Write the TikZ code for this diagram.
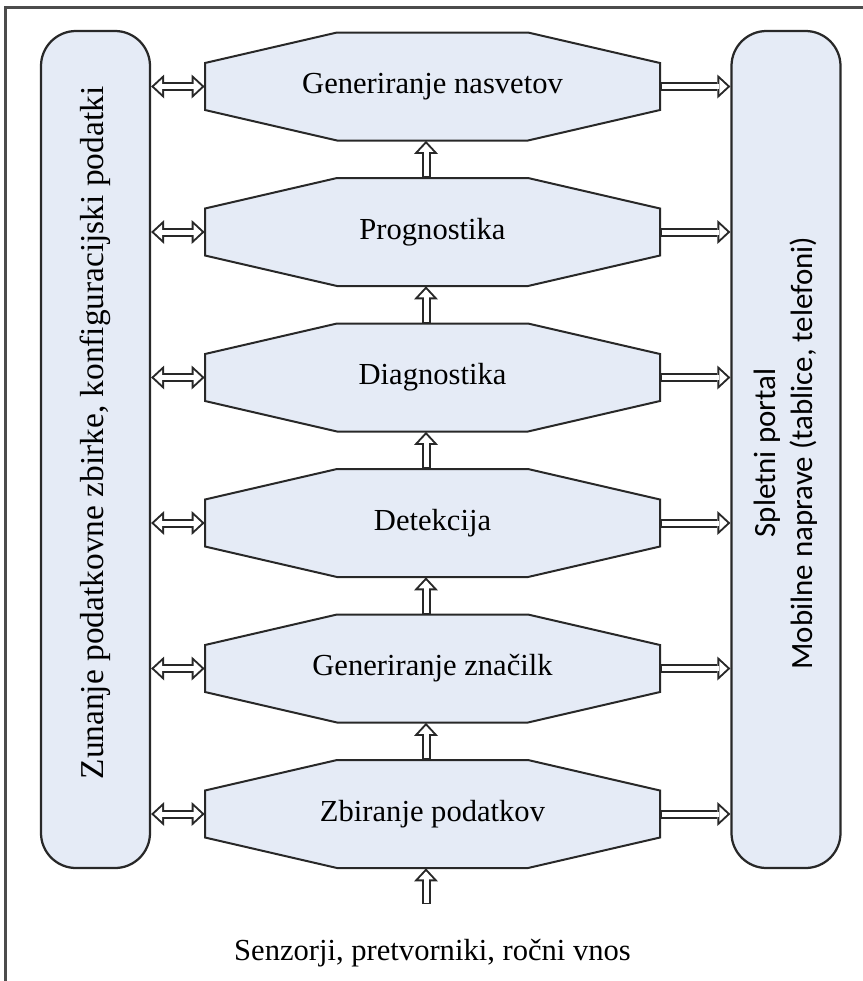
\documentclass[tikz,border=0pt]{standalone}
\usepackage{fontspec}
\setmainfont{Liberation Serif}
\newfontfamily\extfont{Liberation Serif}
\newfontfamily\portalfont{Carlito}
\usepackage{xcolor}
\usetikzlibrary{arrows.meta}
\usetikzlibrary{positioning}

\definecolor{boxfill}{RGB}{229,235,246}
\definecolor{boxline}{RGB}{40,40,40}

\begin{document}
\begin{tikzpicture}[]

	\tikzstyle{sidebox} = [rectangle,rounded corners=0.7cm,draw=boxline,fill=boxfill,line width=0.045cm,minimum width=2.18cm,minimum height=16.74cm,inner sep=0pt]
	\tikzstyle{stageline} = [draw=boxline,fill=boxfill,line width=0.04cm,line join=miter]
	\tikzstyle{stage} = [inner sep=0pt,minimum width=9.1cm,minimum height=2.16cm,font=\extfont\fontsize{17.4pt}{21pt}\selectfont]
	% hollow arrow: dark outline first, white core on top
	\tikzstyle{flow} = [draw=white,line width=0.1cm,shorten >=0.06cm,shorten <=0.025cm,
		-{Triangle[length=0.16cm,width=0.3cm,line width=0pt]},
		preaction={draw=boxline,line width=0.18cm,shorten >=0pt,shorten <=0pt,-{Triangle[length=0.26cm,width=0.48cm,line width=0pt]}}]
	\tikzstyle{biflow} = [draw=white,line width=0.1cm,shorten >=0.06cm,shorten <=0.06cm,
		{Triangle[length=0.16cm,width=0.3cm,line width=0pt]}-{Triangle[length=0.16cm,width=0.3cm,line width=0pt]},
		preaction={draw=boxline,line width=0.18cm,shorten >=0pt,shorten <=0pt,{Triangle[length=0.26cm,width=0.48cm,line width=0pt]}-{Triangle[length=0.26cm,width=0.48cm,line width=0pt]}}]

	\useasboundingbox (0,0) rectangle (17.26,-19.62);
	\draw[color=black!70,line width=0.06cm] (0.12,-19.62) -- (0.12,-0.14) -- (17.26,-0.14);

	% side boxes
	\node[sidebox] (ext) at (1.91,-8.99) {};
	\node[sidebox] (portal) at (15.72,-8.99) {};
	\node[rotate=90,font=\extfont\fontsize{19pt}{23pt}\selectfont] (extlbl) at (1.91,-8.66) {Zunanje podatkovne zbirke, konfiguracijski podatki};
	\node[rotate=90,align=center,font=\portalfont\fontsize{17.6pt}{21pt}\selectfont] (portallbl) at (15.72,-9.06) {Spletni portal\\Mobilne naprave (tablice, telefoni)};

	% stage outlines
	\foreach \y in {-1.73,-4.64,-7.55,-10.46,-13.37,-16.28}
		\filldraw[stageline] (4.1,\y-0.47) -- (4.1,\y+0.47) -- (6.74,\y+1.08) -- (10.56,\y+1.08)
			-- (13.2,\y+0.47) -- (13.2,\y-0.47) -- (10.56,\y-1.08) -- (6.74,\y-1.08) -- cycle;

	\node[stage] (s1) at (8.65,-1.73) {Generiranje nasvetov};
	\node[stage] (s2) at (8.65,-4.64) {Prognostika};
	\node[stage] (s3) at (8.65,-7.55) {Diagnostika};
	\node[stage] (s4) at (8.65,-10.46) {Detekcija};
	\node[stage] (s5) at (8.65,-13.37) {Generiranje značilk};
	\node[stage] (s6) at (8.65,-16.28) {Zbiranje podatkov};

	\node[font=\extfont\fontsize{17.4pt}{21pt}\selectfont] (sensors) at (8.65,-19.06) {Senzorji, pretvorniki, ročni vnos};

	% upward flow
	\draw ([xshift=-0.13cm,yshift=0.58cm]sensors.north) edge [flow] ([xshift=-0.13cm]s6.south);
	\draw ([xshift=-0.13cm]s6.north) edge [flow] ([xshift=-0.13cm]s5.south);
	\draw ([xshift=-0.13cm]s5.north) edge [flow] ([xshift=-0.13cm]s4.south);
	\draw ([xshift=-0.13cm]s4.north) edge [flow] ([xshift=-0.13cm]s3.south);
	\draw ([xshift=-0.13cm]s3.north) edge [flow] ([xshift=-0.13cm]s2.south);
	\draw ([xshift=-0.13cm]s2.north) edge [flow] ([xshift=-0.13cm]s1.south);

	% links to the side boxes
	\foreach \s in {s1,s2,s3,s4,s5,s6} {
		\draw (ext.east |- \s.west) edge [biflow] (\s.west);
		\draw (\s.east) edge [flow] (portal.west |- \s.east);
	}

\end{tikzpicture}
\end{document}
